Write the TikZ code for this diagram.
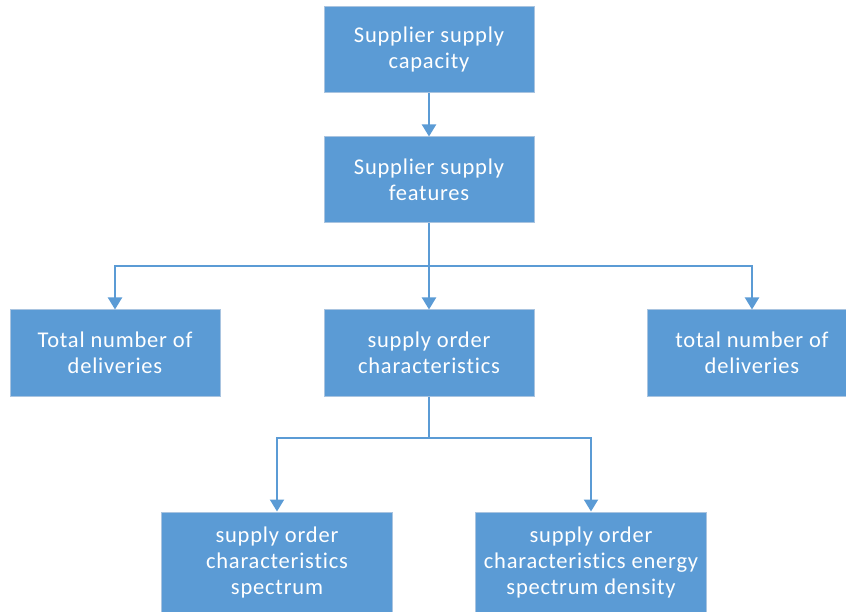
\documentclass[tikz,border=0pt]{standalone}
\usepackage{fontspec}
\setmainfont{Carlito}[LetterSpace=3.5,Ligatures=NoCommon]
\usetikzlibrary{arrows.meta}
\definecolor{boxblue}{HTML}{5B9BD5}
\definecolor{boxedge}{HTML}{A9C4E0}
\tikzset{
  box/.style={rectangle, fill=boxblue, draw=boxedge, line width=1pt, text=white,
    minimum width=#1, align=center, inner sep=0pt,
    font=\fontsize{22.5}{26}\selectfont},
  box/.default={210pt},
  conn/.style={draw=boxblue, line width=2pt, -{Triangle[width=14pt,length=12pt]}},
  plain/.style={draw=boxblue, line width=2pt}
}
\begin{document}
\begin{tikzpicture}[x=1pt,y=-1pt]
\useasboundingbox (0,0) rectangle (846,612);
\clip (0,0) rectangle (846,612);
\node[box, minimum height=86pt] (a) at (429,50) {Supplier supply\\capacity};
\node[box, minimum height=86pt] (b) at (429,180) {Supplier supply\\features};
\node[box, minimum height=86pt] (c) at (115,353) {Total number of\\deliveries};
\node[box, minimum height=86pt] (d) at (429,353) {supply order\\characteristics};
\node[box, minimum height=86pt] (e) at (752,353) {total number of\\deliveries};
\node[box=231pt, minimum height=100pt] (f) at (277,562) {supply order\\characteristics\\spectrum};
\node[box=231pt, minimum height=100pt] (g) at (591,562) {supply order\\characteristics energy\\spectrum density};
\coordinate (hb) at (429,266);
\coordinate (hd) at (429,438);
\draw[conn] (a.south) -- (b.north);
\draw[plain] (b.south) -- (hb);
\draw[conn] (hb) -- (d.north);
\draw[conn] (hb) -| (c.north);
\draw[conn] (hb) -| (e.north);
\draw[plain] (d.south) -- (hd);
\draw[conn] (hd) -| (f.north);
\draw[conn] (hd) -| (g.north);
\end{tikzpicture}
\end{document}
